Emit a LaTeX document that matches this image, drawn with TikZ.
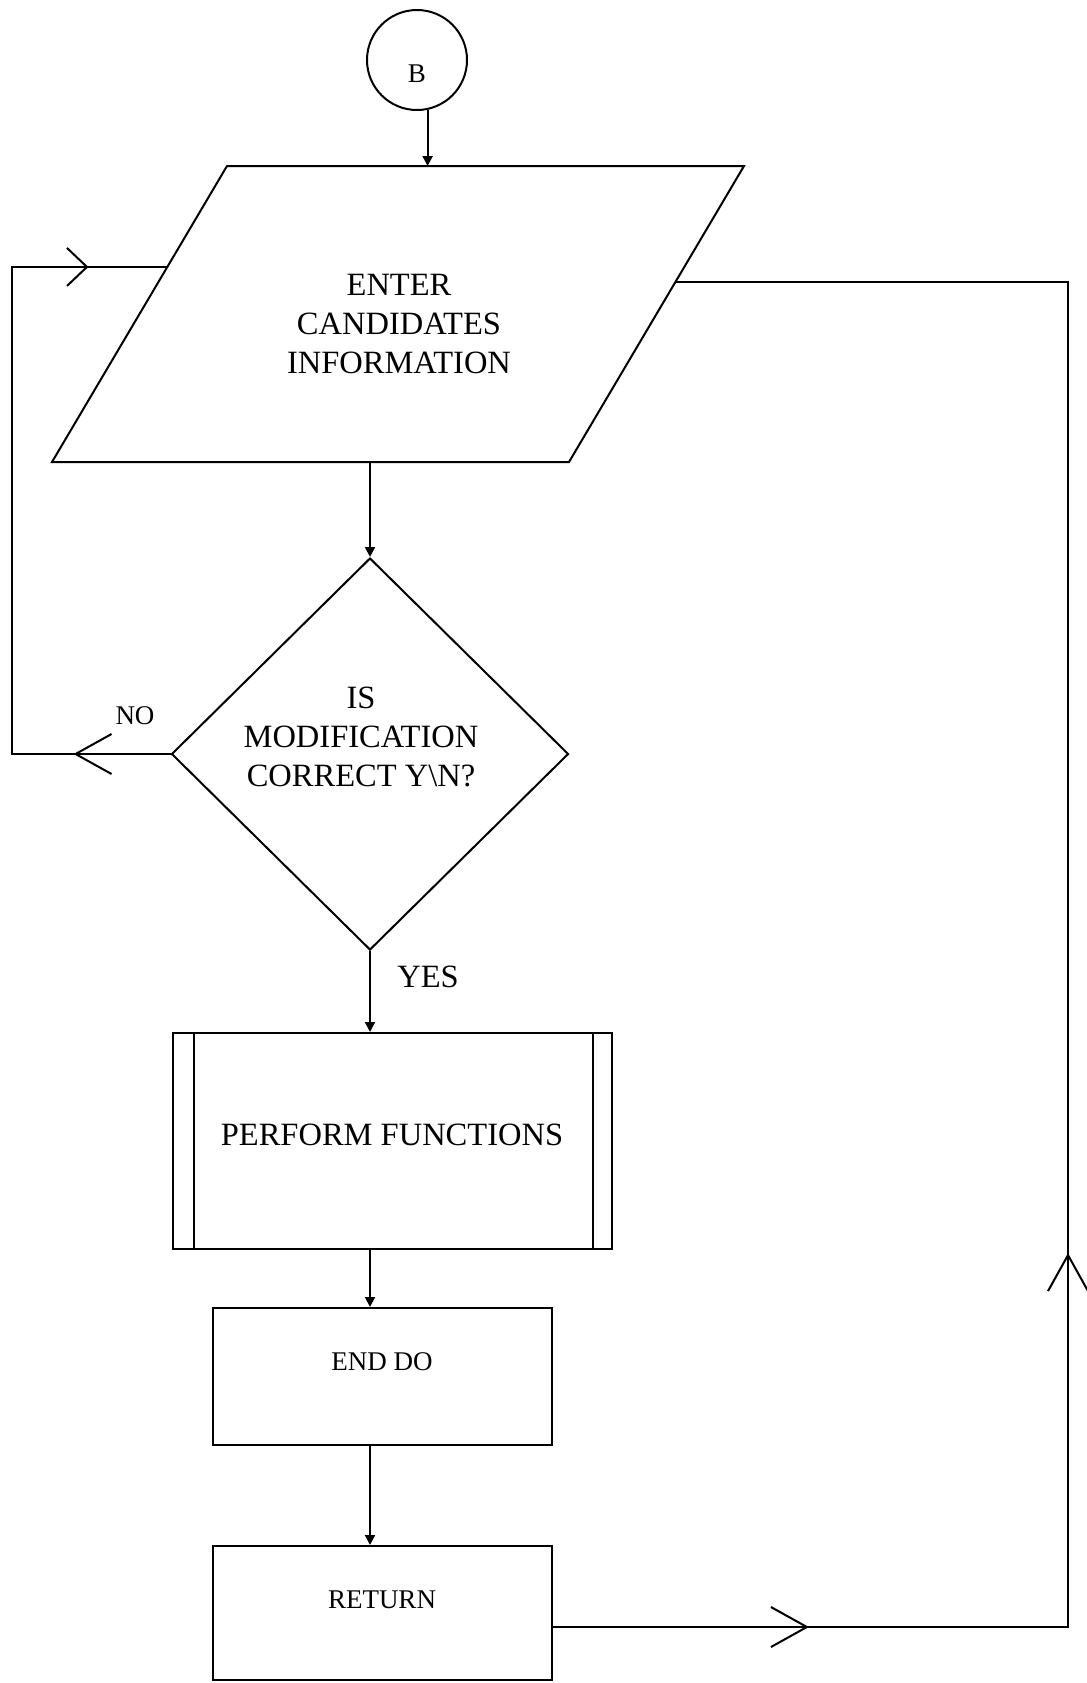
\documentclass[tikz,border=0pt]{standalone}
\usepackage{fontspec}
\setmainfont{Liberation Serif}
\usetikzlibrary{shapes.geometric,arrows.meta,decorations.markings,calc}

\tikzset{
  vtip/.tip={Straight Barb[length=18pt,width=20pt]},
  shortvtip/.tip={Straight Barb[length=10pt,width=19pt]},
  bigtext/.style={font=\fontsize{16.25}{19.5}\selectfont, inner sep=0pt},
  smalltext/.style={font=\fontsize{13.5}{16}\selectfont, inner sep=0pt},
  flow/.style={-{Triangle[length=5pt,width=5pt]}},
  box/.style={draw, rectangle, inner sep=0pt},
  leftloop/.style={decoration={markings,
      mark=at position 48.5pt with {\arrow{vtip}},
      mark=at position 361.5pt with {\arrow{shortvtip}}},
    postaction={decorate}},
  rightloop/.style={decoration={markings,
      mark=at position 128pt with {\arrow{vtip}},
      mark=at position 444.5pt with {\arrow{vtip}}},
    postaction={decorate}},
}

\begin{document}
\begin{tikzpicture}[x=0.5pt, y=-0.5pt, line width=1pt]
  \useasboundingbox (0,0) rectangle (1087,1683);

  % connector B
  \node[draw, circle, minimum size=50pt, inner sep=0pt] (B) at (417,60) {};
  \node[smalltext] (Btext) at (417,74) {B};

  % input parallelogram
  \coordinate (ptl) at (227,166);
  \coordinate (ptr) at (744,166);
  \coordinate (pbr) at (569,462);
  \coordinate (pbl) at (52,462);
  \draw (ptl) -- (ptr) -- (pbr) -- (pbl) -- cycle;
  \node[bigtext, align=center] (enter) at (399,324) {ENTER\\CANDIDATES\\INFORMATION};
  \coordinate (pout) at (370,462);
  \coordinate (pinL) at ($(ptl)!0.341!(pbl)$);
  \coordinate (pinR) at ($(ptr)!0.392!(pbr)$);

  % decision
  \node[draw, diamond, minimum width=198.5pt, minimum height=196pt, inner sep=0pt] (dec) at (370,754) {};
  \node[bigtext, align=center] (dectext) at (361,737) {IS\\MODIFICATION\\CORRECT Y\textbackslash N?};

  % predefined process
  \node[box, minimum width=219.5pt, minimum height=108pt] (pf) at (392.5,1141) {};
  \draw ([xshift=11pt]pf.north west) -- ([xshift=11pt]pf.south west);
  \draw ([xshift=-10pt]pf.north east) -- ([xshift=-10pt]pf.south east);
  \node[bigtext] (pftext) at (392,1135) {PERFORM FUNCTIONS};

  % end do
  \node[box, minimum width=169.5pt, minimum height=68.5pt] (enddo) at (382.5,1376.5) {};
  \node[smalltext] (enddotext) at (382,1362) {END DO};

  % return
  \node[box, minimum width=169.5pt, minimum height=67pt] (ret) at (382.5,1613) {};
  \node[smalltext] (rettext) at (382,1600) {RETURN};

  % main flow
  \draw[flow] (B.-78) -- (B.-78 |- ptl);
  \draw[flow] (pout) -- (dec.north);
  \draw[flow] (dec.south) -- (dec.south |- pf.north);
  \draw[flow] (dec.south |- pf.south) -- (dec.south |- enddo.north);
  \draw[flow] (dec.south |- enddo.south) -- (dec.south |- ret.north);

  % loops back to the input
  \draw[leftloop] (dec.west) -- ++(-159,0) |- (pinL);
  \draw[rightloop] ([yshift=-7pt]ret.east) -- ++(515,0) |- (pinR);

  % branch labels
  \node[smalltext] (no) at (135,716) {NO};
  \node[bigtext] (yes) at (428,977) {YES};
\end{tikzpicture}
\end{document}
